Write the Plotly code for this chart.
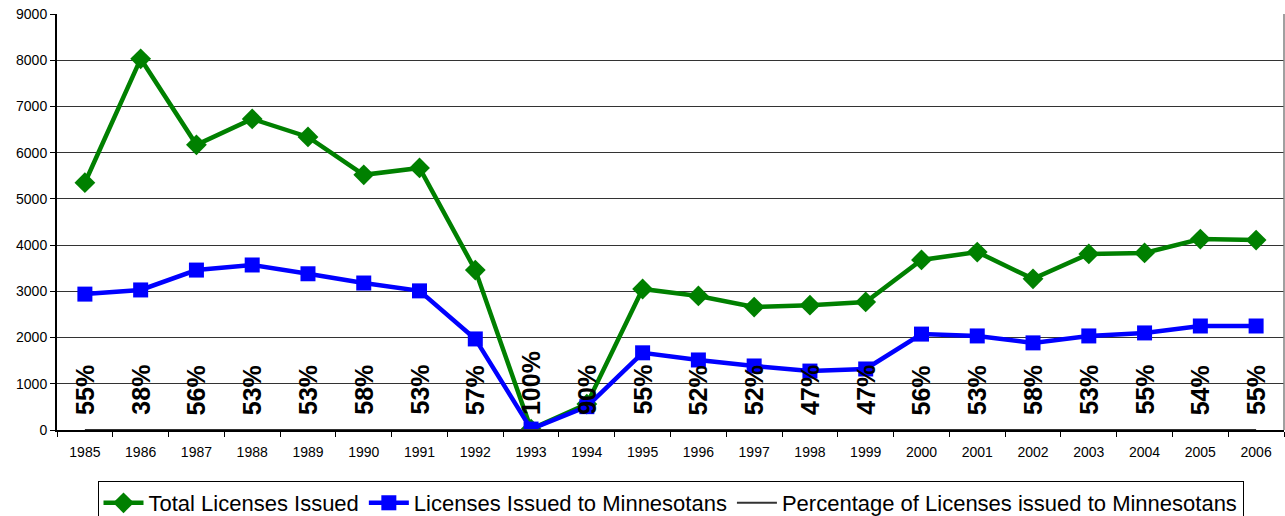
import plotly.graph_objects as go

years = [str(y) for y in range(1985, 2007)]
total = [5350, 8030, 6170, 6730, 6340, 5520, 5670, 3460, 20, 560, 3050, 2900,
         2660, 2700, 2770, 3680, 3850, 3270, 3810, 3830, 4130, 4110]
mn = [2940, 3030, 3460, 3570, 3380, 3180, 3010, 1970, 20, 505, 1670, 1515,
      1385, 1275, 1320, 2075, 2035, 1885, 2035, 2100, 2250, 2250]
pct = [55, 38, 56, 53, 53, 58, 53, 57, 100, 90, 55, 52, 52, 47, 47, 56, 53, 58,
       53, 55, 54, 55]

font = "Liberation Sans, Arial, sans-serif"

fig = go.Figure()
fig.add_trace(go.Scatter(
    x=years, y=total, name="Total Licenses Issued", mode="lines+markers",
    line=dict(color="#008000", width=4.5),
    marker=dict(symbol="diamond", size=16, color="#008000")))
fig.add_trace(go.Scatter(
    x=years, y=mn, name="Licenses Issued to Minnesotans", mode="lines+markers",
    line=dict(color="#0000FF", width=4.5),
    marker=dict(symbol="square", size=15, color="#0000FF")))
fig.add_trace(go.Scatter(
    x=years, y=[p / 100 for p in pct],
    name="Percentage of Licenses issued to Minnesotans", mode="lines",
    line=dict(color="#333333", width=2)))

for i, p in enumerate(pct):
    fig.add_annotation(x=i, y=0, text=f"<b>{p}%</b>", textangle=-90,
                       showarrow=False, yanchor="bottom", yshift=13,
                       font=dict(family=font, size=25, color="black"))

fig.update_layout(
    width=1285, height=516,
    margin=dict(l=57, r=1, t=14, b=86),
    paper_bgcolor="white", plot_bgcolor="white",
    font=dict(family=font, color="black"),
    showlegend=True,
    legend=dict(orientation="h", x=0.5, xanchor="center",
                yref="container", y=(516 - 481) / 516, yanchor="top",
                bordercolor="black", borderwidth=1,
                font=dict(family=font, size=22, color="black"),
                itemwidth=40, tracegroupgap=0),
)
fig.update_xaxes(type="category", range=[-0.5, len(years) - 0.5],
                 automargin=False,
                 showline=True, linecolor="black",
                 linewidth=1.5, ticks="outside", tickson="boundaries",
                 ticklen=5, tickcolor="black", showgrid=False,
                 tickangle=0, ticklabelstandoff=8,
                 tickfont=dict(size=14, family=font), mirror=False)
fig.update_yaxes(range=[0, 9000], dtick=1000, showline=True,
                 automargin=False,
                 linecolor="black", linewidth=2, ticks="outside", ticklen=5,
                 tickcolor="black", showgrid=True, gridcolor="#333333",
                 gridwidth=1, zeroline=False,
                 tickfont=dict(size=14, family=font))
fig.add_shape(type="line", xref="paper", yref="paper", x0=1, x1=1, y0=0, y1=1,
              line=dict(color="#808080", width=1.5))

fig.write_html("out.html", config={"displayModeBar": False},
               post_script="document.body.style.margin='0';"
                           "document.body.style.overflow='hidden';")
